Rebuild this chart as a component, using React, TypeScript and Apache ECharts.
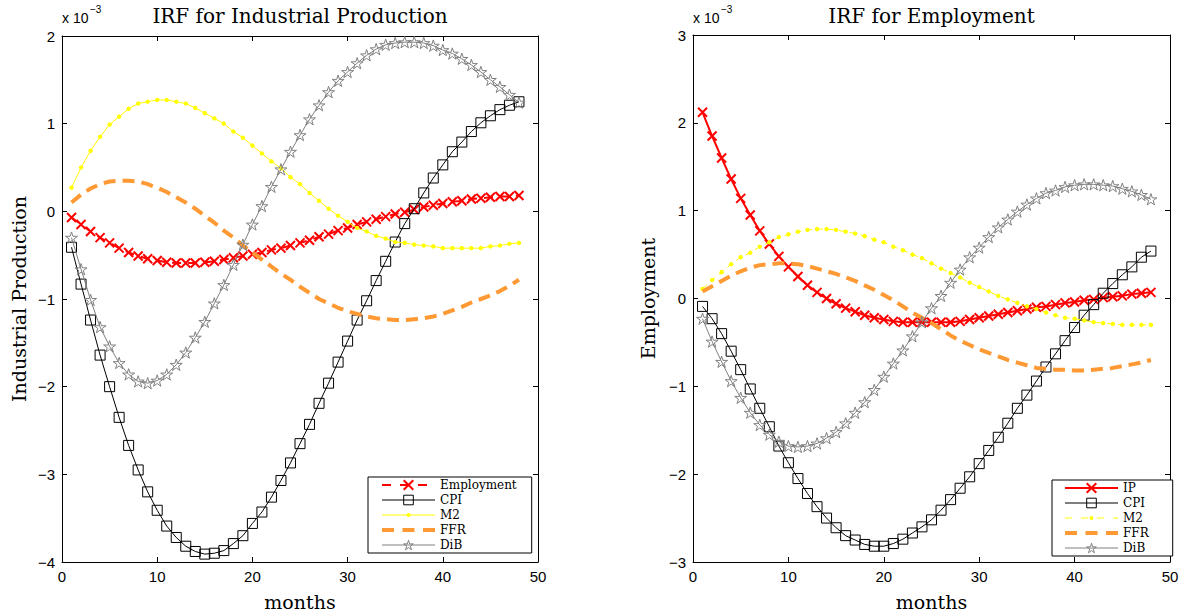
import React, { useEffect, useRef } from "react";
import * as echarts from "echarts";

// ---------- data (values in units of 1e-3) ----------
const months = [
  1, 2, 3, 4, 5, 6, 7, 8, 9, 10, 11, 12, 13, 14, 15, 16, 17, 18, 19, 20, 21, 22, 23, 24,
  25, 26, 27, 28, 29, 30, 31, 32, 33, 34, 35, 36, 37, 38, 39, 40, 41, 42, 43, 44, 45, 46, 47, 48,
];
const xTicks = [0, 10, 20, 30, 40, 50];
const ipYTicks = [-4, -3, -2, -1, 0, 1, 2];
const empYTicks = [-3, -2, -1, 0, 1, 2, 3];

// IRF for Industrial Production
const ipEmployment = [
  -0.07, -0.15, -0.23, -0.3, -0.36, -0.42, -0.47, -0.51, -0.54, -0.56,
  -0.58, -0.59, -0.59, -0.59, -0.58, -0.57, -0.55, -0.53, -0.51, -0.49,
  -0.47, -0.44, -0.42, -0.39, -0.36, -0.33, -0.29, -0.26, -0.22, -0.19,
  -0.15, -0.12, -0.09, -0.06, -0.03, -0.01, 0.02, 0.05, 0.07, 0.09,
  0.11, 0.12, 0.14, 0.15, 0.16, 0.17, 0.17, 0.18,
];
const ipCPI = [
  -0.41, -0.83, -1.24, -1.64, -2.0, -2.35, -2.67, -2.95, -3.2, -3.41,
  -3.59, -3.72, -3.82, -3.88, -3.91, -3.9, -3.87, -3.79, -3.7, -3.56,
  -3.43, -3.26, -3.07, -2.87, -2.65, -2.43, -2.19, -1.96, -1.72, -1.48,
  -1.24, -1.02, -0.79, -0.57, -0.35, -0.14, 0.03, 0.21, 0.38, 0.53,
  0.68, 0.79, 0.91, 1.01, 1.09, 1.16, 1.21, 1.25,
];
const ipM2 = [
  0.27, 0.5, 0.69, 0.85, 0.99, 1.08, 1.17, 1.23, 1.25, 1.27,
  1.27, 1.25, 1.23, 1.18, 1.12, 1.06, 1.0, 0.91, 0.84, 0.75,
  0.66, 0.57, 0.49, 0.39, 0.31, 0.21, 0.12, 0.03, -0.05, -0.12,
  -0.19, -0.23, -0.28, -0.31, -0.35, -0.36, -0.38, -0.39, -0.4, -0.42,
  -0.42, -0.42, -0.42, -0.42, -0.4, -0.39, -0.37, -0.36,
];
const ipFFR = [
  0.1, 0.19, 0.26, 0.31, 0.34, 0.35, 0.35, 0.34, 0.31, 0.27,
  0.22, 0.16, 0.1, 0.03, -0.05, -0.13, -0.22, -0.3, -0.39, -0.47,
  -0.55, -0.63, -0.71, -0.78, -0.86, -0.93, -1.0, -1.05, -1.1, -1.14,
  -1.17, -1.2, -1.22, -1.23, -1.24, -1.24, -1.23, -1.22, -1.2, -1.17,
  -1.13, -1.09, -1.04, -1.0, -0.96, -0.91, -0.85, -0.78,
];
const ipDiB = [
  -0.3, -0.66, -1.01, -1.32, -1.54, -1.73, -1.86, -1.94, -1.96, -1.93,
  -1.86, -1.75, -1.61, -1.44, -1.26, -1.05, -0.84, -0.61, -0.38, -0.15,
  0.06, 0.28, 0.48, 0.68, 0.87, 1.05, 1.21, 1.36, 1.49, 1.59,
  1.69, 1.78, 1.85, 1.9, 1.92, 1.93, 1.93, 1.92, 1.89, 1.84,
  1.8, 1.74, 1.67, 1.59, 1.5, 1.42, 1.33, 1.24,
];

// IRF for Employment
const empIP = [
  2.12, 1.85, 1.6, 1.36, 1.14, 0.95, 0.77, 0.62, 0.48, 0.36,
  0.25, 0.15, 0.07, 0.0, -0.06, -0.11, -0.15, -0.19, -0.22, -0.24,
  -0.26, -0.27, -0.27, -0.27, -0.27, -0.27, -0.27, -0.26, -0.24, -0.22,
  -0.2, -0.18, -0.16, -0.14, -0.12, -0.1, -0.09, -0.07, -0.05, -0.04,
  -0.02, -0.01, 0.01, 0.02, 0.03, 0.05, 0.06, 0.07,
];
const empCPI = [
  -0.09, -0.23, -0.4, -0.6, -0.81, -1.03, -1.25, -1.46, -1.68, -1.87,
  -2.05, -2.22, -2.37, -2.5, -2.61, -2.7, -2.75, -2.8, -2.82, -2.82,
  -2.79, -2.74, -2.67, -2.6, -2.52, -2.41, -2.29, -2.16, -2.03, -1.88,
  -1.73, -1.58, -1.42, -1.25, -1.1, -0.94, -0.78, -0.63, -0.48, -0.33,
  -0.19, -0.07, 0.06, 0.17, 0.27, 0.36, 0.47, 0.54,
];
const empM2 = [
  0.11, 0.21, 0.3, 0.39, 0.47, 0.52, 0.59, 0.64, 0.7, 0.73,
  0.76, 0.78, 0.79, 0.79, 0.78, 0.76, 0.74, 0.71, 0.67, 0.64,
  0.59, 0.55, 0.5, 0.46, 0.4, 0.34, 0.29, 0.24, 0.18, 0.13,
  0.08, 0.03, -0.01, -0.05, -0.09, -0.12, -0.16, -0.19, -0.22, -0.23,
  -0.25, -0.27, -0.28, -0.29, -0.3, -0.3, -0.3, -0.3,
];
const empFFR = [
  0.08, 0.14, 0.2, 0.26, 0.31, 0.35, 0.38, 0.39, 0.4, 0.4,
  0.39, 0.37, 0.34, 0.31, 0.28, 0.24, 0.2, 0.15, 0.1, 0.04,
  -0.02, -0.09, -0.16, -0.22, -0.28, -0.35, -0.42, -0.48, -0.53, -0.58,
  -0.62, -0.66, -0.7, -0.73, -0.76, -0.79, -0.8, -0.81, -0.81, -0.82,
  -0.82, -0.81, -0.8, -0.79, -0.77, -0.75, -0.73, -0.7,
];
const empDiB = [
  -0.23, -0.49, -0.72, -0.94, -1.13, -1.3, -1.44, -1.55, -1.63, -1.68,
  -1.69, -1.68, -1.65, -1.59, -1.52, -1.42, -1.3, -1.18, -1.04, -0.89,
  -0.74, -0.59, -0.43, -0.27, -0.11, 0.03, 0.18, 0.33, 0.47, 0.58,
  0.7, 0.81, 0.9, 0.99, 1.07, 1.14, 1.2, 1.23, 1.27, 1.29,
  1.3, 1.3, 1.29, 1.28, 1.25, 1.22, 1.18, 1.13,
];

// ---------- styling ----------
const SANS = "'Liberation Sans', Arial, Helvetica, sans-serif";
const SERIF = "'DejaVu Serif', serif";
const STAR =
  "path://M10,0L12.245,6.91L19.511,6.91L13.633,11.18L15.878,18.09L10,13.82L4.122,18.09L6.367,11.18L0.489,6.91L7.755,6.91Z";
const CROSS = "path://M0,0L10,10M0,10L10,0";
// small dot centred in a larger invisible box, so the legend dot stays small
const DOT =
  "path://M0,0M24,24M17,12L15.54,15.54L12,17L8.46,15.54L7,12L8.46,8.46L12,7L15.54,8.46Z";

const RED = "#ff0000";
const YELLOW = "#ffff00";
const ORANGE = "#ff9933";
const GRAY = "#808080";

const pts = (vals: number[]) => months.map((m, i) => [m, vals[i]]);
const minus = (v: number) => String(v).replace("-", "\u2212");

function redSeries(name: string, vals: number[], dashed: boolean) {
  return {
    name,
    type: "line",
    data: pts(vals),
    symbol: CROSS,
    symbolSize: 9,
    symbolKeepAspect: true,
    lineStyle: { color: RED, width: 2, type: dashed ? [9, 7] : "solid" },
    itemStyle: { color: "transparent", borderColor: RED, borderWidth: 2 },
    z: 2,
  };
}
function cpiSeries(vals: number[]) {
  return {
    name: "CPI",
    type: "line",
    data: pts(vals),
    symbol: "rect",
    symbolSize: 10,
    lineStyle: { color: "#000000", width: 1 },
    itemStyle: { color: "transparent", borderColor: "#000000", borderWidth: 1 },
    z: 3,
  };
}
function m2Series(vals: number[], dashed: boolean) {
  return {
    name: "M2",
    type: "line",
    data: pts(vals),
    symbol: DOT,
    symbolSize: 11,
    symbolKeepAspect: true,
    lineStyle: { color: YELLOW, width: 1, type: dashed ? [6, 5] : "solid" },
    itemStyle: { color: YELLOW },
    z: 4,
  };
}
function ffrSeries(vals: number[]) {
  return {
    name: "FFR",
    type: "line",
    data: pts(vals),
    symbol: "none",
    lineStyle: { color: ORANGE, width: 4, type: [12, 7] },
    itemStyle: { color: ORANGE },
    z: 5,
  };
}
function dibSeries(vals: number[]) {
  return {
    name: "DiB",
    type: "line",
    data: pts(vals),
    symbol: STAR,
    symbolSize: 12,
    symbolKeepAspect: true,
    lineStyle: { color: GRAY, width: 1 },
    itemStyle: { color: "transparent", borderColor: GRAY, borderWidth: 1 },
    z: 6,
  };
}

function legendItems(redName: string, redDashed: boolean, m2Dashed: boolean) {
  return [
    {
      name: redName,
      itemStyle: { color: "transparent", borderColor: RED, borderWidth: 2 },
      lineStyle: { color: RED, width: 2, type: redDashed ? [9, 9] : "solid" },
    },
    {
      name: "CPI",
      itemStyle: { color: "transparent", borderColor: "#000", borderWidth: 1 },
      lineStyle: { color: "#000", width: 1, type: "solid" },
    },
    {
      name: "M2",
      itemStyle: { color: YELLOW, borderColor: YELLOW, borderWidth: 0 },
      lineStyle: { color: YELLOW, width: 1, type: m2Dashed ? [7, 9] : "solid" },
    },
    {
      name: "FFR",
      itemStyle: { color: "transparent", borderColor: "transparent", borderWidth: 0 },
      lineStyle: { color: ORANGE, width: 4, type: [12, 8.5] },
    },
    {
      name: "DiB",
      itemStyle: { color: "transparent", borderColor: GRAY, borderWidth: 1 },
      lineStyle: { color: GRAY, width: 1, type: "solid" },
    },
  ];
}

type Cfg = {
  grid: { left: number; top: number; width: number; height: number };
  yTicks: number[];
  title: string;
  yName: string;
  yNameX: number;
  legendLeft: number;
  legendTop: number;
  legendPadding: number[];
  legendData: any[];
  series: any[];
};

function buildOption(c: Cfg) {
  const cx = c.grid.left + c.grid.width / 2;
  const cy = c.grid.top + c.grid.height / 2;
  const axisLine = { show: true, onZero: false, lineStyle: { color: "#000", width: 1 } };
  const axisTick = { show: true, inside: true, length: 5, lineStyle: { color: "#000", width: 1 } };
  const yMin = c.yTicks[0];
  const yMax = c.yTicks[c.yTicks.length - 1];
  return {
    animation: false,
    backgroundColor: "#ffffff",
    grid: { ...c.grid, show: false },
    xAxis: [
      {
        type: "value", position: "bottom", min: xTicks[0], max: xTicks[xTicks.length - 1], interval: 10,
        axisLine, axisTick, splitLine: { show: false },
        axisLabel: { color: "#000", fontFamily: SANS, fontSize: 15, margin: 7 },
      },
      {
        type: "value", position: "top", min: xTicks[0], max: xTicks[xTicks.length - 1], interval: 10,
        axisLine, axisTick, splitLine: { show: false }, axisLabel: { show: false },
      },
    ],
    yAxis: [
      {
        type: "value", position: "left", min: yMin, max: yMax, interval: 1,
        axisLine, axisTick, splitLine: { show: false },
        axisLabel: { color: "#000", fontFamily: SANS, fontSize: 15, margin: 7, formatter: minus },
      },
      {
        type: "value", position: "right", min: yMin, max: yMax, interval: 1,
        axisLine, axisTick, splitLine: { show: false }, axisLabel: { show: false },
      },
    ],
    legend: {
      orient: "vertical",
      left: c.legendLeft,
      top: c.legendTop,
      itemWidth: 53,
      itemHeight: 12,
      itemGap: 3,
      padding: c.legendPadding,
      borderColor: "#000",
      borderWidth: 1,
      backgroundColor: "#fff",
      selectedMode: false,
      textStyle: { fontFamily: SERIF, fontSize: 12, color: "#000" },
      data: c.legendData,
    },
    graphic: [
      {
        type: "text", x: cx, y: 16,
        style: { text: c.title, font: `20px ${SERIF}`, fill: "#000", align: "center", verticalAlign: "middle" },
      },
      {
        type: "text", x: cx, y: 602,
        style: { text: "months", font: `19px ${SERIF}`, fill: "#000", align: "center", verticalAlign: "middle" },
      },
      {
        type: "text", x: c.yNameX, y: cy, rotation: Math.PI / 2,
        style: { text: c.yName, font: `19px ${SERIF}`, fill: "#000", align: "center", verticalAlign: "middle" },
      },
      {
        type: "text", x: c.grid.left, y: 18,
        style: { text: "x 10", font: `14px ${SANS}`, fill: "#000", align: "left", verticalAlign: "middle" },
      },
      {
        type: "text", x: c.grid.left + 28, y: 9,
        style: { text: "\u22123", font: `10px ${SANS}`, fill: "#000", align: "left", verticalAlign: "middle" },
      },
    ],
    series: c.series,
  };
}

const leftOption = buildOption({
  grid: { left: 62, top: 36, width: 476, height: 526 },
  yTicks: ipYTicks,
  title: "IRF for Industrial Production",
  yName: "Industrial Production",
  yNameX: 19,
  legendLeft: 368,
  legendTop: 477,
  legendPadding: [2, 15, 2, 12],
  legendData: legendItems("Employment", true, false),
  series: [
    redSeries("Employment", ipEmployment, true),
    cpiSeries(ipCPI),
    m2Series(ipM2, false),
    ffrSeries(ipFFR),
    dibSeries(ipDiB),
  ],
});

const rightOption = buildOption({
  grid: { left: 93, top: 35, width: 477, height: 527 },
  yTicks: empYTicks,
  title: "IRF for Employment",
  yName: "Employment",
  yNameX: 48,
  legendLeft: 452,
  legendTop: 480,
  legendPadding: [2, 24, 2, 11],
  legendData: legendItems("IP", false, true),
  series: [
    redSeries("IP", empIP, false),
    cpiSeries(empCPI),
    m2Series(empM2, true),
    ffrSeries(empFFR),
    dibSeries(empDiB),
  ],
});

function Chart({ option, style }: { option: any; style: React.CSSProperties }) {
  const ref = useRef<HTMLDivElement>(null);
  useEffect(() => {
    const chart = echarts.init(ref.current as HTMLDivElement, null, { renderer: "svg" });
    chart.setOption(option);
    return () => chart.dispose();
  }, [option]);
  return <div ref={ref} style={style} />;
}

export default function App() {
  return (
    <div style={{ position: "fixed", left: 0, top: 0, width: 1189, height: 613, background: "#fff" }}>
      <Chart option={leftOption} style={{ position: "absolute", left: 0, top: 0, width: 600, height: 613 }} />
      <Chart option={rightOption} style={{ position: "absolute", left: 600, top: 0, width: 589, height: 613 }} />
    </div>
  );
}
